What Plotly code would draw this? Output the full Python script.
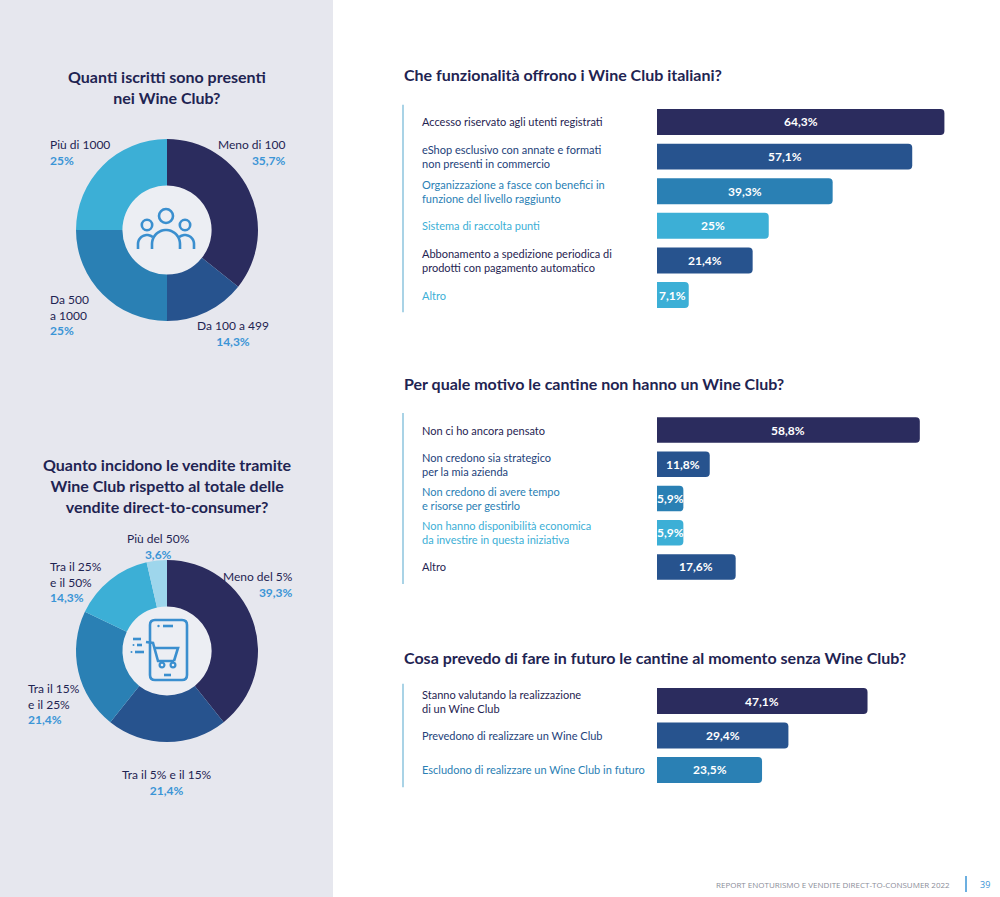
import numpy as np
import plotly.graph_objects as go

W, H = 1000, 897

# ---- data ----
iscritti_labels = ["Meno di 100", "Da 100 a 499", "Da 500<br>a 1000", "Più di 1000"]
iscritti_values = [35.7, 14.3, 25, 25]

incidenza_labels = ["Meno del 5%", "Tra il 5% e il 15%", "Tra il 15%<br>e il 25%",
                    "Tra il 25%<br>e il 50%", "Più del 50%"]
incidenza_values = [39.3, 21.4, 21.4, 14.3, 3.6]

funz_labels = ["Accesso riservato agli utenti registrati",
               "eShop esclusivo con annate e formati<br>non presenti in commercio",
               "Organizzazione a fasce con benefici in<br>funzione del livello raggiunto",
               "Sistema di raccolta punti",
               "Abbonamento a spedizione periodica di<br>prodotti con pagamento automatico",
               "Altro"]
funz_values = [64.3, 57.1, 39.3, 25, 21.4, 7.1]

motivi_labels = ["Non ci ho ancora pensato",
                 "Non credono sia strategico<br>per la mia azienda",
                 "Non credono di avere tempo<br>e risorse per gestirlo",
                 "Non hanno disponibilità economica<br>da investire in questa iniziativa",
                 "Altro"]
motivi_values = [58.8, 11.8, 5.9, 5.9, 17.6]

futuro_labels = ["Stanno valutando la realizzazione<br>di un Wine Club",
                 "Prevedono di realizzare un Wine Club",
                 "Escludono di realizzare un Wine Club in futuro"]
futuro_values = [47.1, 29.4, 23.5]

# ---- styles ----
NAVY = "#2b2c5e"
BLUE = "#27538e"
MID = "#2a80b4"
LIGHT = "#3cafd6"
PALE = "#9ed6ec"
TEXT = "#1f2452"
TEXT2 = "#24427a"
PCT = "#3b95d6"
ICON = "#3a8fcf"
PANEL = "#e6e7ee"
FONT = "Lato"


def fmt(v):
    return f"{v:g}".replace(".", ",") + "%"


def px(x):
    return x / W


def py(y):
    return 1 - y / H


fig = go.Figure()
shapes = []
annotations = []

# left panel
shapes.append(dict(type="rect", xref="paper", yref="paper", x0=0, x1=px(333), y0=0, y1=1,
                   fillcolor=PANEL, line_width=0, layer="below"))


def circle(cx, cy, r, fill=None, line=None, lw=0, layer="above"):
    d = dict(type="circle", xref="paper", yref="paper",
             x0=px(cx - r), x1=px(cx + r), y0=py(cy + r), y1=py(cy - r), layer=layer)
    d["fillcolor"] = fill if fill else "rgba(0,0,0,0)"
    d["line"] = dict(color=line if line else "rgba(0,0,0,0)", width=lw)
    return d


def poly(pts, closed=False, color=ICON, lw=2.6):
    s = "M " + " L ".join(f"{px(x):.5f},{py(y):.5f}" for x, y in pts)
    if closed:
        s += " Z"
    return dict(type="path", xref="paper", yref="paper", path=s,
                line=dict(color=color, width=lw), layer="above")


def arc(cx, cy, r, a0, a1, n=24):
    t = np.radians(np.linspace(a0, a1, n))
    return [(cx + r * np.cos(a), cy - r * np.sin(a)) for a in t]


# ---- donut charts ----
def donut(labels, values, colors, cy, name):
    fig.add_trace(go.Pie(labels=labels, values=values, hole=0.49, sort=False,
                         direction="clockwise", rotation=0, textinfo="none", name=name,
                         marker=dict(colors=colors, line=dict(width=0)),
                         domain=dict(x=[px(76), px(258)], y=[py(cy + 91), py(cy - 91)]),
                         showlegend=False, hovertemplate="%{label}: %{value}%<extra></extra>"))
    shapes.append(circle(167, cy, 46, fill="#eceef3", layer="below"))


donut(iscritti_labels, iscritti_values, [NAVY, BLUE, MID, LIGHT], 230, "iscritti")
donut(incidenza_labels, incidenza_values, [NAVY, BLUE, MID, LIGHT, PALE], 651, "incidenza")


def pie_label(text, value, x, ytop, anchor):
    annotations.append(dict(
        xref="paper", yref="paper", x=px(x), y=py(ytop), xanchor=anchor, yanchor="top",
        align=anchor, showarrow=False,
        text=f"{text}<br><span style='color:{PCT}'><b>{fmt(value)}</b></span>",
        font=dict(family=FONT, size=12, color=TEXT)))


pie_pos1 = [(288, 135, "right"), (233, 316, "center"), (48, 290, "left"), (48, 135, "left")]
for lab, v, (x, y, a) in zip(iscritti_labels, iscritti_values, pie_pos1):
    pie_label(lab, v, x, y, a)

pie_pos2 = [(295, 567, "right"), (167, 765, "center"), (26, 679, "left"),
            (48, 557, "left"), (158, 529, "center")]
for lab, v, (x, y, a) in zip(incidenza_labels, incidenza_values, pie_pos2):
    pie_label(lab, v, x, y, a)

# donut titles
annotations.append(dict(xref="paper", yref="paper", x=px(167), y=py(65), xanchor="center",
                        yanchor="top", showarrow=False, align="center",
                        text="<b>Quanti iscritti sono presenti<br>nei Wine Club?</b>",
                        font=dict(family=FONT, size=16, color=TEXT)))
annotations.append(dict(xref="paper", yref="paper", x=px(167), y=py(453), xanchor="center",
                        yanchor="top", showarrow=False, align="center",
                        text="<b>Quanto incidono le vendite tramite<br>Wine Club rispetto al totale delle"
                             "<br>vendite direct-to-consumer?</b>",
                        font=dict(family=FONT, size=16, color=TEXT)))

# people icon
shapes.append(circle(166, 216, 7, line=ICON, lw=2.6))
shapes.append(circle(147, 225, 5.2, line=ICON, lw=2.6))
shapes.append(circle(185, 225, 5.2, line=ICON, lw=2.6))
shapes.append(poly([(152, 249)] + arc(166, 244, 14, 180, 0) + [(180, 249)]))
shapes.append(poly([(138, 249)] + arc(147, 244, 9, 180, 50)))
shapes.append(poly(arc(185, 244, 9, 130, 0) + [(194, 249)]))

# phone + cart icon
r = 5
x0, x1, y0, y1 = 150, 187, 620, 680
phone = (f"M {px(x0 + r)},{py(y0)} L {px(x1 - r)},{py(y0)} Q {px(x1)},{py(y0)} {px(x1)},{py(y0 + r)} "
         f"L {px(x1)},{py(y1 - r)} Q {px(x1)},{py(y1)} {px(x1 - r)},{py(y1)} "
         f"L {px(x0 + r)},{py(y1)} Q {px(x0)},{py(y1)} {px(x0)},{py(y1 - r)} "
         f"L {px(x0)},{py(y0 + r)} Q {px(x0)},{py(y0)} {px(x0 + r)},{py(y0)} Z")
shapes.append(dict(type="path", xref="paper", yref="paper", path=phone,
                   line=dict(color=ICON, width=2.6), layer="above"))
shapes.append(poly([(163, 626), (173, 626)]))
shapes.append(circle(158.5, 626, 1.2, fill=ICON))
shapes.append(poly([(164, 675), (171, 675)]))
shapes.append(poly([(146, 642), (153, 643), (158, 661), (174, 661)]))
shapes.append(poly([(155, 648), (178, 648), (174, 661)]))
shapes.append(circle(162, 665, 2.4, line=ICON, lw=2.2))
shapes.append(circle(173, 665, 2.4, line=ICON, lw=2.2))
shapes.append(poly([(133, 639), (141, 639)]))
shapes.append(poly([(137, 645), (142, 645)]))
shapes.append(poly([(135, 652), (144, 652)]))
shapes.append(circle(133.5, 645, 1, fill=ICON))
shapes.append(circle(131.5, 652, 1, fill=ICON))

# ---- bar charts ----
XMAX = 74.5


def bar_block(idx, labels, values, bar_colors, label_colors, title, ytop, ybot, ytitle):
    xa = "x" if idx == 1 else f"x{idx}"
    ya = "y" if idx == 1 else f"y{idx}"
    fig.add_trace(go.Bar(
        x=values, y=labels, orientation="h", xaxis=xa, yaxis=ya,
        marker=dict(color=bar_colors, cornerradius=4, line=dict(width=0)),
        showlegend=False, hovertemplate="%{x}%<extra></extra>"))
    n = len(labels)
    key = "" if idx == 1 else str(idx)
    fig.update_layout(**{
        f"xaxis{key}": dict(domain=[px(657), px(990)], range=[0, XMAX], visible=False,
                            anchor=ya, fixedrange=True),
        f"yaxis{key}": dict(domain=[py(ybot), py(ytop)], type="category",
                            categoryorder="array", categoryarray=labels,
                            range=[n - 0.5, -0.5], visible=False, anchor=xa, fixedrange=True),
    })
    for lab, v, c in zip(labels, values, label_colors):
        annotations.append(dict(xref="paper", yref=ya, x=px(420), y=lab, xanchor="left",
                                yanchor="middle", align="left", showarrow=False, text=lab,
                                font=dict(family=FONT, size=11, color=c)))
        annotations.append(dict(xref=xa, yref=ya, x=v / 2, y=lab, xanchor="center",
                                yanchor="middle", showarrow=False, text=f"<b>{fmt(v)}</b>",
                                font=dict(family=FONT, size=12, color="white")))
    annotations.append(dict(xref="paper", yref="paper", x=px(402), y=py(ytitle), xanchor="left",
                            yanchor="middle", showarrow=False, text=f"<b>{title}</b>",
                            font=dict(family=FONT, size=16, color=TEXT)))
    shapes.append(dict(type="line", xref="paper", yref=f"{ya} domain", x0=px(403), x1=px(403),
                       y0=0, y1=1, line=dict(color="#a9d3e6", width=2)))


bar_block(1, funz_labels, funz_values,
          [NAVY, BLUE, MID, LIGHT, BLUE, LIGHT],
          [TEXT, TEXT2, MID, LIGHT, TEXT, LIGHT],
          "Che funzionalità offrono i Wine Club italiani?", 104.7, 312.3, 75)
bar_block(2, motivi_labels, motivi_values,
          [NAVY, BLUE, MID, LIGHT, BLUE],
          [TEXT, TEXT2, MID, LIGHT, TEXT],
          "Per quale motivo le cantine non hanno un Wine Club?", 412.9, 584.1, 383)
bar_block(3, futuro_labels, futuro_values,
          [NAVY, BLUE, MID],
          [TEXT, TEXT2, MID],
          "Cosa prevedo di fare in futuro le cantine al momento senza Wine Club?", 683.8, 787.2, 657)

# ---- footer ----
annotations.append(dict(xref="paper", yref="paper", x=px(952), y=py(884), xanchor="right",
                        yanchor="middle", showarrow=False,
                        text="REPORT ENOTURISMO E VENDITE DIRECT-TO-CONSUMER 2022",
                        font=dict(family="Open Sans", size=8, color="#8a8d99")))
shapes.append(dict(type="line", xref="paper", yref="paper", x0=px(966), x1=px(966),
                   y0=py(892), y1=py(876), line=dict(color=PCT, width=1.5)))
annotations.append(dict(xref="paper", yref="paper", x=px(985), y=py(884), xanchor="center",
                        yanchor="middle", showarrow=False, text="39",
                        font=dict(family="Open Sans", size=9, color=PCT)))

fig.update_layout(width=W, height=H, margin=dict(l=0, r=0, t=0, b=0),
                  paper_bgcolor="white", plot_bgcolor="rgba(0,0,0,0)",
                  bargap=0.25, shapes=shapes, annotations=annotations,
                  font=dict(family=FONT, color=TEXT))

fig.write_html("out.html", config={"displayModeBar": False},
               post_script="document.body.style.margin='0';")
